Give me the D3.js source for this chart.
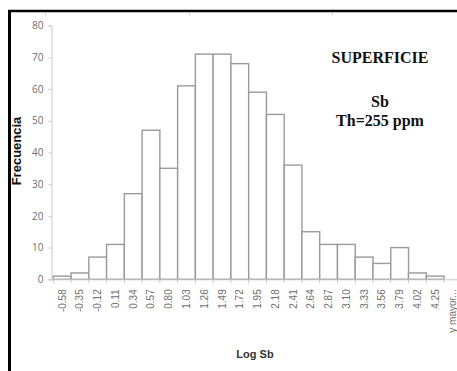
<!DOCTYPE html>
<html>
<head>
<meta charset="utf-8">
<script src="https://cdn.jsdelivr.net/npm/d3@7"></script>
<style>
  html, body { margin: 0; padding: 0; background: #fff; overflow: hidden; }
  svg { display: block; }
</style>
</head>
<body>
<svg id="chart" width="457" height="371"></svg>
<script>
const categories = ["-0.58","-0.35","-0.12","0.11","0.34","0.57","0.80","1.03","1.26","1.49","1.72","1.95","2.18","2.41","2.64","2.87","3.10","3.33","3.56","3.79","4.02","4.25","y mayor..."];
const frequencies = [1,2,7,11,27,47,35,61,71,71,68,59,52,36,15,11,11,7,5,10,2,1,0];
const yTicks = [0,10,20,30,40,50,60,70,80];
const annotations = ["SUPERFICIE","Sb","Th=255 ppm"];
const xTitle = "Log Sb";
const yTitle = "Frecuencia";

const svg = d3.select("#chart");

const x = d3.scaleBand().domain(categories).range([53.3, 461.8]).padding(0);
const y = d3.scaleLinear().domain([0, 80]).range([279.3, 25.6]);

// frame (black borders)
svg.append("line").attr("x1", 9.5).attr("x2", 9.5).attr("y1", 10).attr("y2", 371)
  .attr("stroke", "#000").attr("stroke-width", 3);
svg.append("line").attr("x1", 8).attr("x2", 457).attr("y1", 11).attr("y2", 11)
  .attr("stroke", "#000").attr("stroke-width", 2.5);
[45.5, 189.5, 332.5].forEach(px => {
  svg.append("line").attr("x1", px).attr("x2", px).attr("y1", 12).attr("y2", 14.5)
    .attr("stroke", "#bbb").attr("stroke-width", 1);
});

// bars
svg.append("g").selectAll("rect").data(categories).join("rect")
  .attr("x", d => x(d))
  .attr("y", (d, i) => y(frequencies[i]))
  .attr("width", x.bandwidth())
  .attr("height", (d, i) => y(0) - y(frequencies[i]))
  .attr("fill", "#fff")
  .attr("stroke", "#9a9a9a")
  .attr("stroke-width", 1.4);

// y axis
const yAxis = svg.append("g").attr("transform", "translate(51.5,0)")
  .call(d3.axisLeft(y).tickValues(yTicks).tickSize(3).tickPadding(5).tickFormat(d3.format("d")));
yAxis.select(".domain").attr("stroke", "#c8c8c8");
yAxis.selectAll(".tick line").attr("stroke", "#c8c8c8");
yAxis.selectAll(".tick text").attr("fill", "#6e6e6e").style("font-family", "'Open Sans', 'Liberation Sans', sans-serif").style("font-size", "10px");

// x axis
const xAxis = svg.append("g").attr("transform", `translate(0,${y(0)})`)
  .call(d3.axisBottom(x).tickSize(0).tickSizeOuter(0).tickPadding(0));
xAxis.select(".domain").attr("stroke", "#c8c8c8").attr("d", `M48.5,0.5H457`);
xAxis.selectAll(".tick text")
  .attr("fill", "#6e6e6e")
  .style("font-family", "'Liberation Sans', Arial, sans-serif")
  .style("font-size", "10px")
  .attr("text-anchor", "end")
  .attr("transform", "rotate(-90)")
  .attr("x", -10)
  .attr("y", 0)
  .attr("dy", "0.35em");
// boundary ticks
xAxis.append("g").selectAll("line").data(categories).join("line")
  .attr("x1", d => x(d)).attr("x2", d => x(d))
  .attr("y1", 0).attr("y2", 4)
  .attr("stroke", "#c8c8c8");

// axis titles
svg.append("text")
  .attr("transform", "translate(21,151) rotate(-90)")
  .attr("text-anchor", "middle")
  .style("font-family", "'Liberation Sans', Arial, sans-serif")
  .style("font-weight", "bold")
  .style("font-size", "13px")
  .attr("fill", "#111")
  .text(yTitle);

svg.append("text")
  .attr("x", 255).attr("y", 358)
  .attr("text-anchor", "middle")
  .style("font-family", "'Liberation Sans', Arial, sans-serif")
  .style("font-weight", "bold")
  .style("font-size", "11px")
  .attr("fill", "#333")
  .text(xTitle);

// annotations
const annY = [63, 107, 126];
annotations.forEach((t, i) => {
  svg.append("text")
    .attr("x", 380).attr("y", annY[i])
    .attr("text-anchor", "middle")
    .style("font-family", "'Liberation Serif', 'Times New Roman', serif")
    .style("font-weight", "bold")
    .style("font-size", "16px")
    .attr("fill", "#111")
    .text(t);
});
</script>
</body>
</html>
